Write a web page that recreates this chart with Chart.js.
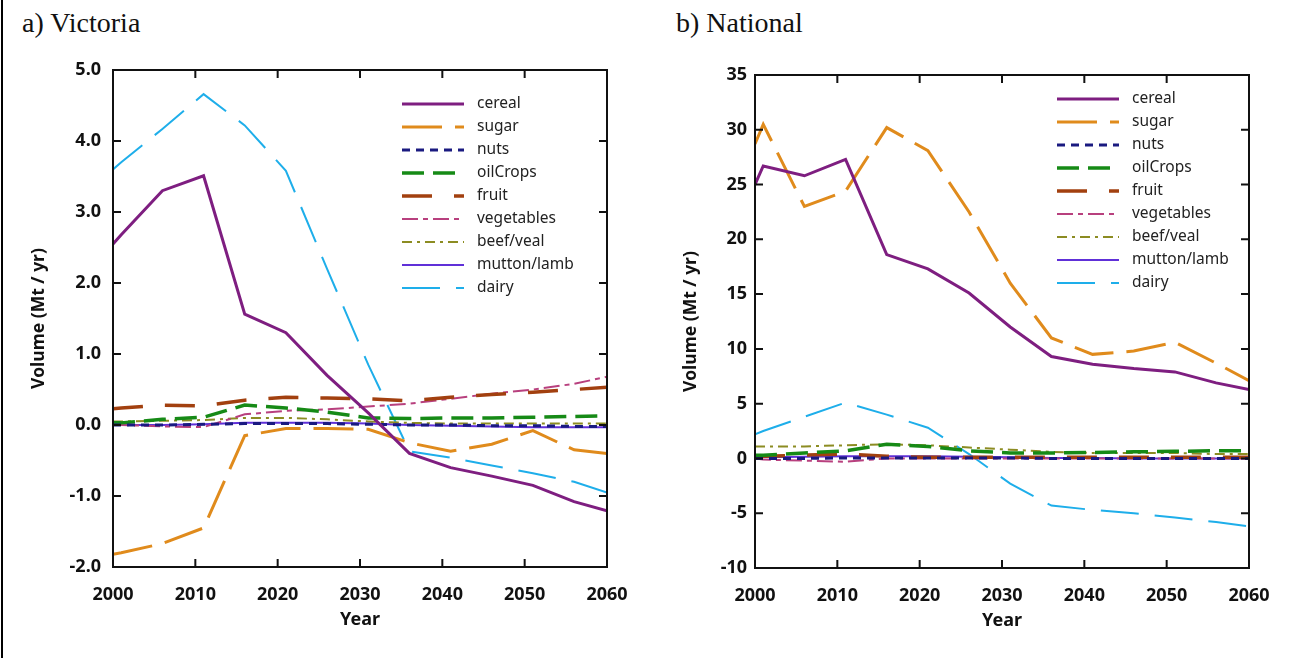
<!DOCTYPE html>
<html>
<head>
<meta charset="utf-8">
<script src="https://cdn.jsdelivr.net/npm/chart.js@4.4.1/dist/chart.umd.min.js"></script>
<style>
  body { margin: 0; background: #fff; width: 1300px; height: 658px; overflow: hidden; position: relative; }
  .edge { position: absolute; left: 1px; top: 0; width: 2px; height: 658px; background: #000; }
  .title { position: absolute; top: 9px; font-family: "Liberation Serif", serif; font-size: 28px; line-height: 28px; color: #111; }
  .box { position: absolute; top: 0; width: 650px; height: 658px; }
</style>
</head>
<body>
<div class="edge"></div>
<div class="title" style="left:22px">a) Victoria</div>
<div class="title" style="left:676px">b) National</div>
<div class="box" style="left:0"><canvas id="vic"></canvas></div>
<div class="box" style="left:650px"><canvas id="nat"></canvas></div>
<script>
const years = [2000, 2001, 2006, 2011, 2016, 2021, 2026, 2031, 2036, 2041, 2046, 2051, 2056, 2060];
const labels = ["cereal", "sugar", "nuts", "oilCrops", "fruit", "vegetables", "beef/veal", "mutton/lamb", "dairy"];

// a) Victoria (Mt / yr)
const vicCereal     = [2.55, 2.68, 3.30, 3.51, 1.56, 1.30, 0.70, 0.17, -0.40, -0.60, -0.72, -0.85, -1.08, -1.21];
const vicSugar      = [-1.82, -1.80, -1.67, -1.45, -0.15, -0.05, -0.05, -0.06, -0.25, -0.37, -0.27, -0.08, -0.35, -0.40];
const vicNuts       = [0.00, 0.00, 0.00, 0.01, 0.02, 0.02, 0.02, 0.01, 0.00, 0.00, -0.01, -0.01, -0.02, -0.02];
const vicOilCrops   = [0.03, 0.03, 0.08, 0.11, 0.28, 0.24, 0.18, 0.10, 0.09, 0.10, 0.10, 0.11, 0.12, 0.13];
const vicFruit      = [0.23, 0.24, 0.28, 0.27, 0.35, 0.39, 0.38, 0.37, 0.34, 0.39, 0.43, 0.46, 0.50, 0.53];
const vicVegetables = [0.00, 0.00, -0.02, -0.03, 0.15, 0.20, 0.22, 0.26, 0.30, 0.37, 0.44, 0.50, 0.58, 0.68];
const vicBeef       = [0.05, 0.05, 0.06, 0.07, 0.10, 0.10, 0.08, 0.05, 0.03, 0.02, 0.02, 0.02, 0.02, 0.02];
const vicMutton     = [0.00, 0.00, 0.00, 0.01, 0.03, 0.03, 0.03, 0.02, 0.00, -0.01, -0.02, -0.03, -0.03, -0.03];
const vicDairy      = [3.60, 3.70, 4.17, 4.66, 4.22, 3.58, 2.20, 0.85, -0.37, -0.46, -0.57, -0.68, -0.80, -0.95];

// b) National (Mt / yr)
const natCereal     = [25.0, 26.7, 25.8, 27.3, 18.6, 17.3, 15.1, 12.0, 9.3, 8.6, 8.2, 7.9, 6.9, 6.3];
const natSugar      = [28.7, 30.5, 23.0, 24.4, 30.2, 28.1, 22.5, 16.0, 11.0, 9.5, 9.8, 10.6, 8.7, 7.1];
const natNuts       = [0.0, 0.0, 0.0, 0.05, 0.05, 0.05, 0.05, 0.05, 0.0, 0.0, 0.0, 0.0, 0.0, 0.0];
const natOilCrops   = [0.3, 0.3, 0.5, 0.7, 1.3, 1.1, 0.7, 0.5, 0.5, 0.55, 0.6, 0.65, 0.7, 0.7];
const natFruit      = [0.2, 0.2, 0.3, 0.4, 0.2, 0.1, 0.1, 0.1, 0.1, 0.1, 0.1, 0.1, 0.1, 0.1];
const natVegetables = [0.0, -0.1, -0.2, -0.3, 0.0, 0.0, 0.0, 0.0, 0.0, 0.0, 0.0, 0.0, 0.0, 0.0];
const natBeef       = [1.1, 1.1, 1.1, 1.2, 1.3, 1.2, 1.0, 0.8, 0.6, 0.5, 0.5, 0.5, 0.4, 0.4];
const natMutton     = [0.1, 0.1, 0.15, 0.2, 0.2, 0.2, 0.15, 0.1, 0.05, 0.05, 0.0, 0.0, 0.0, 0.0];
const natDairy      = [2.2, 2.5, 3.8, 5.1, 4.0, 2.8, 0.4, -2.3, -4.3, -4.7, -5.0, -5.4, -5.8, -6.2];

const vicTicks = [-2, -1, 0, 1, 2, 3, 4, 5];
const natTicks = [-10, -5, 0, 5, 10, 15, 20, 25, 30, 35];
const yearTicks = [2000, 2010, 2020, 2030, 2040, 2050, 2060];

// line styles, same order as labels
const styles = [
  { color: "#7E1E80", width: 3,   dash: [] },
  { color: "#E08B1C", width: 3,   dash: [40, 13] },
  { color: "#1A1A80", width: 3,   dash: [8, 6] },
  { color: "#168A16", width: 3.5, dash: [22, 9] },
  { color: "#A2400F", width: 3.5, dash: [30, 22] },
  { color: "#B8407E", width: 2,   dash: [16, 5, 5, 5] },
  { color: "#8C8C22", width: 2,   dash: [10, 5, 3, 5] },
  { color: "#6030D8", width: 2,   dash: [] },
  { color: "#1EAEEA", width: 2,   dash: [38, 16] },
];

const font = "'Noto Sans', sans-serif";

function makeSets(series) {
  return series.map((vals, i) => ({
    label: labels[i],
    data: years.map((yr, k) => ({ x: yr, y: vals[k] })),
    borderColor: styles[i].color,
    borderWidth: styles[i].width,
    borderDash: styles[i].dash,
    pointRadius: 0,
    tension: 0,
    fill: false,
  }));
}

// plot frame, inward ticks on all sides, and in-plot legend
const frameTicks = {
  id: "frameTicks",
  afterDatasetsDraw(chart, args, opts) {
    const { ctx, chartArea: a, scales: { x, y } } = chart;
    ctx.save();
    ctx.strokeStyle = "#111";
    ctx.lineWidth = 2;
    ctx.setLineDash([]);
    ctx.strokeRect(a.left, a.top, a.right - a.left, a.bottom - a.top);
    const L = 8;
    ctx.beginPath();
    x.ticks.forEach(t => {
      const px = x.getPixelForValue(t.value);
      ctx.moveTo(px, a.bottom); ctx.lineTo(px, a.bottom - L);
      ctx.moveTo(px, a.top); ctx.lineTo(px, a.top + L);
    });
    y.ticks.forEach(t => {
      const py = y.getPixelForValue(t.value);
      ctx.moveTo(a.left, py); ctx.lineTo(a.left + L, py);
      ctx.moveTo(a.right, py); ctx.lineTo(a.right - L, py);
    });
    ctx.stroke();

    ctx.font = "15.5px " + font;
    ctx.fillStyle = "#222";
    ctx.textBaseline = "middle";
    chart.data.datasets.forEach((ds, i) => {
      const yy = opts.top + i * opts.step;
      ctx.strokeStyle = ds.borderColor;
      ctx.lineWidth = ds.borderWidth;
      ctx.setLineDash(ds.borderDash);
      ctx.beginPath();
      ctx.moveTo(opts.left, yy);
      ctx.lineTo(opts.left + 62, yy);
      ctx.stroke();
      ctx.fillText(ds.label, opts.left + 75, yy);
    });
    ctx.restore();
  }
};

function makeChart(id, series, ticks, fmt, pad, yWidth, yPad, legend) {
  return new Chart(document.getElementById(id), {
    type: "line",
    data: { datasets: makeSets(series) },
    plugins: [frameTicks],
    options: {
      responsive: true,
      maintainAspectRatio: false,
      animation: false,
      layout: { padding: pad },
      plugins: { legend: { display: false }, tooltip: { enabled: false }, frameTicks: legend },
      scales: {
        x: {
          type: "linear", min: 2000, max: 2060,
          afterBuildTicks: s => { s.ticks = yearTicks.map(v => ({ value: v })); },
          afterFit: s => { s.height = 75; },
          grid: { display: false, drawTicks: false },
          border: { display: false },
          ticks: { color: "#111", padding: 17, maxRotation: 0, callback: v => String(v), font: { family: font, size: 18, weight: "bold" } },
          title: { display: true, text: "Year", color: "#111", padding: { top: 0, bottom: 11 }, font: { family: font, size: 18, weight: "bold" } },
        },
        y: {
          type: "linear", min: ticks[0], max: ticks[ticks.length - 1],
          afterBuildTicks: s => { s.ticks = ticks.map(v => ({ value: v })); },
          afterFit: s => { s.width = yWidth; },
          grid: { display: false, drawTicks: false },
          border: { display: false },
          ticks: { color: "#111", padding: yPad, callback: fmt, font: { family: font, size: 18, weight: "bold" } },
          title: { display: true, text: "Volume (Mt / yr)", color: "#111", padding: { top: 1, bottom: 0 }, font: { family: font, size: 17.5, weight: "bold" } },
        },
      },
    },
  });
}

makeChart("vic",
  [vicCereal, vicSugar, vicNuts, vicOilCrops, vicFruit, vicVegetables, vicBeef, vicMutton, vicDairy],
  vicTicks, v => v.toFixed(1),
  { left: 28, right: 43, top: 70, bottom: 16 }, 85, 12,
  { left: 402, top: 104, step: 23 });

makeChart("nat",
  [natCereal, natSugar, natNuts, natOilCrops, natFruit, natVegetables, natBeef, natMutton, natDairy],
  natTicks, v => String(v),
  { left: 30, right: 51, top: 75, bottom: 15 }, 75, 8,
  { left: 407, top: 99, step: 23 });
</script>
</body>
</html>
